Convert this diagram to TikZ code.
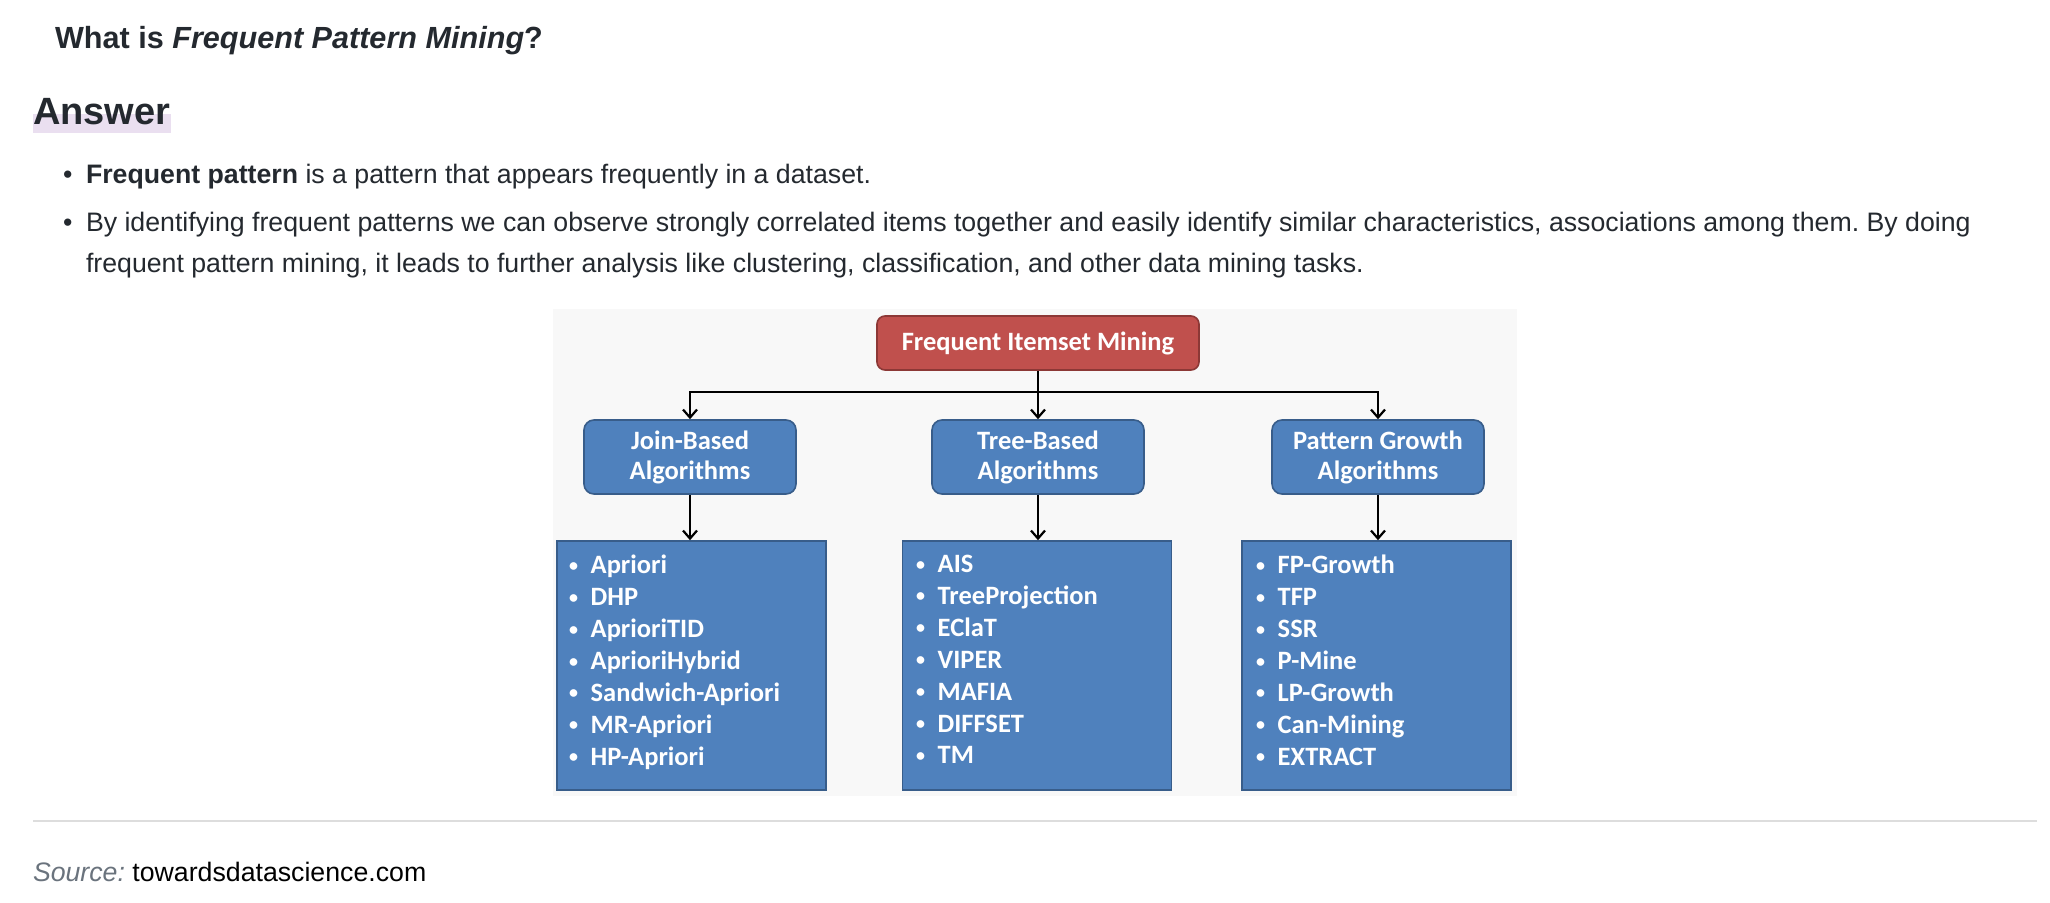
\documentclass[tikz,border=0pt]{standalone}
\usepackage{fontspec}
\setmainfont{Liberation Sans}
\newfontfamily\calib{Carlito}
\usetikzlibrary{arrows.meta,positioning}
\definecolor{txt}{HTML}{24292F}
\definecolor{srcgray}{HTML}{6A737D}
\definecolor{rulegray}{HTML}{DDDDDD}
\definecolor{diagbg}{HTML}{F8F8F8}
\definecolor{redfill}{HTML}{C0504D}
\definecolor{redline}{HTML}{8C3836}
\definecolor{bluefill}{HTML}{4F81BD}
\definecolor{blueline}{HTML}{385D8A}
\definecolor{hilite}{HTML}{EADFF0}
\frenchspacing
\tikzset{
  plain/.style={inner sep=0pt, outer sep=0pt, anchor=base west, text=txt},
  body/.style={plain, font=\fontsize{26.7}{32}\selectfont},
  topbox/.style={draw=redline, line width=1.6pt, fill=redfill, rounded corners=8pt,
    minimum width=322pt, minimum height=54pt, inner sep=0pt, text=white,
    font=\calib\bfseries\fontsize{26.5}{30}\selectfont},
  catbox/.style={draw=blueline, line width=1.6pt, fill=bluefill, rounded corners=10pt,
    minimum width=212pt, minimum height=74pt, inner sep=0pt, text=white, align=center,
    font=\calib\bfseries\fontsize{26.5}{30}\selectfont},
  listbox/.style={draw=blueline, line width=1.6pt, fill=bluefill,
    minimum width=269pt, minimum height=249pt, inner sep=0pt},
  listtext/.style={inner sep=0pt, anchor=north west, text=white, align=left,
    font=\calib\bfseries\fontsize{26.5}{31.9}\selectfont},
  arr/.style={draw=black, line width=2.6pt, -{Straight Barb[length=8pt,width=14pt,line width=2.2pt]}}
}
\newcommand{\itm}[1]{\makebox[21.5pt][l]{\fontsize{18}{18}\selectfont\raisebox{2.5pt}{•}}#1}
\begin{document}
\begin{tikzpicture}[x=1pt,y=-1pt]
\useasboundingbox[fill=white] (0,0) rectangle (2050,902);
% heading
\node[plain, font=\bfseries\fontsize{30.6}{36}\selectfont] (head) at (55,48)
  {What is \textit{Frequent Pattern Mining}?};
% Answer
\fill[hilite] (33,114) rectangle (171,133);
\node[plain, font=\bfseries\fontsize{38}{44}\selectfont] (ans) at (33,124) {Answer};
% bullets
\node[body] (b1) at (63,183) {•};
\node[body] (l1) at (86,183)
  {\textbf{Frequent pattern} is a pattern that appears frequently in a dataset.};
\node[body] (b2) at (63,231) {•};
\node[body] (l2) at (86,231)
  {By identifying frequent patterns we can observe strongly correlated items together and easily identify similar characteristics, associations among them. By doing};
\node[body] (l3) at (86,272)
  {frequent pattern mining, it leads to further analysis like clustering, classification, and other data mining tasks.};
% diagram background
\fill[diagbg] (553,309) rectangle (1517,796);
% diagram
\node[topbox] (fim) at (1038,343) {Frequent Itemset Mining};
\node[catbox] (join) at (690,457) {Join-Based\\Algorithms};
\node[catbox] (tree) at (1038,457) {Tree-Based\\Algorithms};
\node[catbox] (pg) at (1378,457) {Pattern Growth\\Algorithms};
\node[listbox] (jl) at (691.5,665.5) {};
\node[listbox] (tl) at (1037,665.5) {};
\node[listbox] (pl) at (1376.5,665.5) {};
\node[listtext] (jt) at (569,555) {\itm{Apriori}\\\itm{DHP}\\\itm{AprioriTID}\\\itm{AprioriHybrid}\\\itm{Sandwich-Apriori}\\\itm{MR-Apriori}\\\itm{HP-Apriori}};
\node[listtext] (tt) at (916,555) {\itm{AIS}\\\itm{TreeProjection}\\\itm{EClaT}\\\itm{VIPER}\\\itm{MAFIA}\\\itm{DIFFSET}\\\itm{TM}};
\node[listtext] (pt) at (1256,555) {\itm{FP-Growth}\\\itm{TFP}\\\itm{SSR}\\\itm{P-Mine}\\\itm{LP-Growth}\\\itm{Can-Mining}\\\itm{EXTRACT}};
\coordinate (hub) at (1038,392);
\draw[arr] (fim.south) -- (tree.north);
\draw[arr] (hub) -| (join.north);
\draw[arr] (hub) -| (pg.north);
\draw[arr] (join.south) -- (join.south |- jl.north);
\draw[arr] (tree.south) -- (tree.south |- tl.north);
\draw[arr] (pg.south) -- (pg.south |- pl.north);
% footer
\draw[rulegray, line width=1.5pt] (33,821) coordinate (r1) -- (2037,821) coordinate (r2);
\node[body] (src) at (33,881)
  {\textcolor{srcgray}{\itshape Source:} \textcolor{black}{towardsdatascience.com}};
\end{tikzpicture}
\end{document}
